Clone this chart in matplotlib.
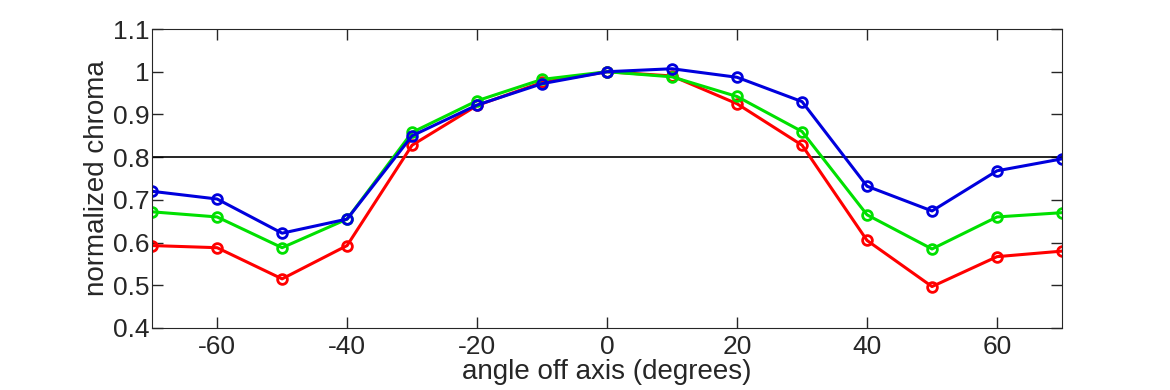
import matplotlib.pyplot as plt
import numpy as np

# Data
angles = [-70, -60, -50, -40, -30, -20, -10, 0, 10, 20, 30, 40, 50, 60, 70]
red = [0.593, 0.588, 0.515, 0.593, 0.828, 0.921, 0.975, 1.0, 0.99, 0.925, 0.828, 0.605, 0.497, 0.567, 0.58]
green = [0.672, 0.66, 0.588, 0.655, 0.858, 0.932, 0.982, 1.0, 0.988, 0.942, 0.86, 0.665, 0.585, 0.66, 0.67]
blue = [0.72, 0.702, 0.622, 0.655, 0.85, 0.922, 0.972, 1.0, 1.007, 0.987, 0.93, 0.732, 0.674, 0.768, 0.796]
threshold = 0.8

plt.rcParams['font.family'] = ['Liberation Sans', 'DejaVu Sans']
plt.rcParams['axes.unicode_minus'] = False

fig = plt.figure(figsize=(11.7, 3.9), dpi=100)
ax = fig.add_axes([0.13, 0.159, 0.7777, 0.7666])

ax.axhline(threshold, color='black', linewidth=1.2)
for vals, col in [(red, '#ff0000'), (green, '#00e000'), (blue, '#0000dd')]:
    ax.plot(angles, vals, color=col, linewidth=2.2, marker='o', markersize=7,
            markerfacecolor='none', markeredgewidth=2)

ax.set_xlim(-70, 70)
ax.set_ylim(0.4, 1.1)
ax.set_xticks([-60, -40, -20, 0, 20, 40, 60])
ax.set_yticks([0.4, 0.5, 0.6, 0.7, 0.8, 0.9, 1.0, 1.1])
ax.set_yticklabels(['0.4', '0.5', '0.6', '0.7', '0.8', '0.9', '1', '1.1'])
ax.tick_params(direction='in', length=8, width=1, colors='#262626', labelsize=19,
               top=True, right=True)
ax.tick_params(axis='x', pad=5)
ax.tick_params(axis='y', pad=2)
for s in ax.spines.values():
    s.set_color('#262626')
ax.set_xlabel('angle off axis (degrees)', fontsize=20, color='#262626', labelpad=0)
ax.set_ylabel('normalized chroma', fontsize=20, color='#262626', labelpad=2)

plt.savefig('out.png', dpi=100)
